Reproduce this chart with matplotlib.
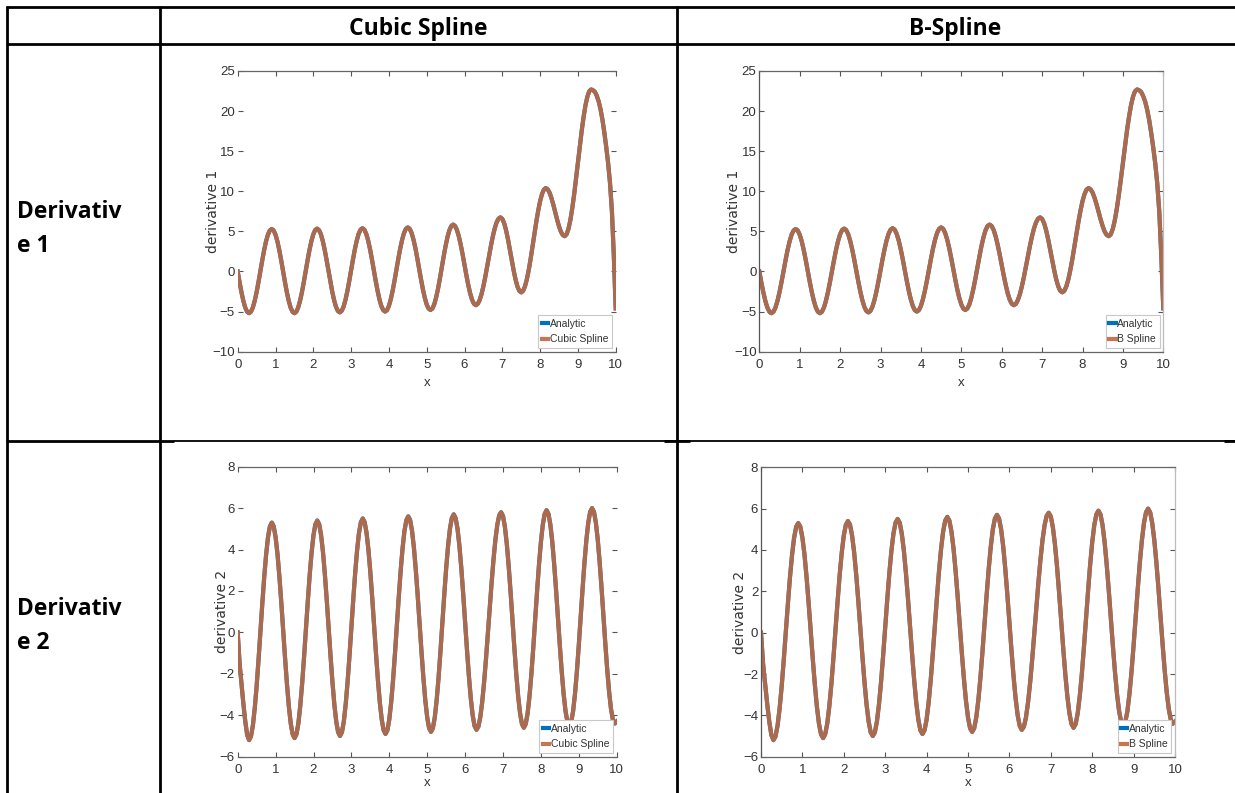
import numpy as np
import matplotlib
matplotlib.use("Agg")
import matplotlib.pyplot as plt

# ---------------------------------------------------------------------------
# Data: first and second derivative sampled on x = 0, 0.05, ..., 10
# ---------------------------------------------------------------------------
x_grid = np.linspace(0.0, 10.0, 201)

deriv1 = [
    0.0, -1.35, -2.6, -3.68, -4.5, -5.02, -5.2,
    -5.02, -4.5, -3.66, -2.58, -1.31, 0.05, 1.41, 2.68, 3.76, 4.6, 5.12, 5.3,
    5.12, 4.6, 3.76, 2.68, 1.41, 0.05, -1.31, -2.58, -3.66, -4.5, -5.02, -5.2,
    -5.02, -4.49, -3.65, -2.56, -1.29, 0.08, 1.44, 2.71, 3.8, 4.64, 5.17, 5.35,
    5.17, 4.65, 3.82, 2.74, 1.48, 0.13, -1.23, -2.49, -3.57, -4.4, -4.92, -5.1,
    -4.92, -4.4, -3.56, -2.48, -1.21, 0.15, 1.51, 2.78, 3.86, 4.7, 5.22, 5.4,
    5.22, 4.7, 3.88, 2.8, 1.55, 0.2, -1.15, -2.4, -3.48, -4.3, -4.82, -5.0,
    -4.82, -4.3, -3.46, -2.38, -1.11, 0.25, 1.61, 2.88, 3.96, 4.8, 5.32, 5.5,
    5.33, 4.81, 3.99, 2.93, 1.68, 0.35, -0.98, -2.23, -3.29, -4.11, -4.63, -4.8,
    -4.62, -4.09, -3.24, -2.14, -0.85, 0.53, 1.9, 3.19, 4.29, 5.14, 5.67, 5.85,
    5.68, 5.18, 4.38, 3.34, 2.13, 0.83, -0.48, -1.69, -2.73, -3.53, -4.03, -4.2,
    -4.04, -3.57, -2.83, -1.84, -0.67, 0.62, 1.93, 3.22, 4.39, 5.38, 6.12, 6.59, 6.75,
    6.56, 6.01, 5.14, 4.02, 2.74, 1.41, 0.14, -0.99, -1.86, -2.41, -2.6,
    -2.41, -1.85, -0.97, 0.21, 1.59, 3.12, 4.68, 6.21, 7.59, 8.77, 9.65, 10.21, 10.4,
    10.25, 9.83, 9.16, 8.33, 7.4, 6.47, 5.64, 4.97, 4.55, 4.4,
    4.63, 5.31, 6.39, 7.85, 9.58, 11.51, 13.55, 15.59, 17.52, 19.25, 20.71, 21.79, 22.47, 22.7,
    22.6, 22.4, 21.9, 21.2, 20.2, 18.9, 17.3, 15.5, 13.5, 11.0, 7.5, 2.0, -4.6,
]

deriv2 = [
    0.0, -1.5, -2.5, -3.45, -4.3, -4.95, -5.2,
    -5.02, -4.5, -3.66, -2.58, -1.31, 0.05, 1.41, 2.68, 3.76, 4.6, 5.12, 5.3,
    5.12, 4.6, 3.78, 2.7, 1.45, 0.1, -1.25, -2.5, -3.58, -4.4, -4.92, -5.1,
    -4.92, -4.4, -3.56, -2.48, -1.21, 0.15, 1.51, 2.78, 3.86, 4.7, 5.22, 5.4,
    5.22, 4.7, 3.88, 2.8, 1.55, 0.2, -1.15, -2.4, -3.48, -4.3, -4.82, -5.0,
    -4.82, -4.3, -3.46, -2.38, -1.11, 0.25, 1.61, 2.88, 3.96, 4.8, 5.32, 5.5,
    5.32, 4.8, 3.98, 2.9, 1.65, 0.3, -1.05, -2.3, -3.38, -4.2, -4.72, -4.9,
    -4.72, -4.2, -3.36, -2.28, -1.01, 0.35, 1.71, 2.98, 4.06, 4.9, 5.42, 5.6,
    5.42, 4.9, 4.08, 3.0, 1.75, 0.4, -0.95, -2.2, -3.28, -4.1, -4.62, -4.8,
    -4.62, -4.1, -3.26, -2.18, -0.91, 0.45, 1.81, 3.08, 4.16, 5.0, 5.52, 5.7,
    5.52, 5.0, 4.18, 3.1, 1.85, 0.5, -0.85, -2.1, -3.18, -4.0, -4.52, -4.7,
    -4.55, -4.1, -3.38, -2.43, -1.31, -0.08, 1.18, 2.41, 3.53, 4.48, 5.2, 5.65, 5.8,
    5.62, 5.1, 4.28, 3.2, 1.95, 0.6, -0.75, -2.0, -3.08, -3.9, -4.42, -4.6,
    -4.42, -3.9, -3.06, -1.98, -0.71, 0.65, 2.01, 3.28, 4.36, 5.2, 5.72, 5.9,
    5.72, 5.2, 4.38, 3.3, 2.05, 0.7, -0.65, -1.9, -2.98, -3.8, -4.32, -4.5,
    -4.32, -3.8, -2.96, -1.88, -0.61, 0.75, 2.11, 3.38, 4.46, 5.3, 5.82, 6.0,
    5.82, 5.3, 4.48, 3.4, 2.15, 0.8, -0.55, -1.8, -2.88, -3.7, -4.22, -4.4, -4.3,
]

column_titles = ["Cubic Spline", "B-Spline"]
row_titles = [("Derivativ", "e 1"), ("Derivativ", "e 2")]
spline_labels = ["Cubic Spline", "B Spline"]
y_labels = ["derivative 1", "derivative 2"]
y_limits = [(-10, 25), (-6, 8)]
y_ticks = [[-10, -5, 0, 5, 10, 15, 20, 25], [-6, -4, -2, 0, 2, 4, 6, 8]]
x_ticks = list(range(0, 11))
row_series = [deriv1, deriv2]

assert len(deriv1) == len(x_grid) and len(deriv2) == len(x_grid)

# ---------------------------------------------------------------------------
# Figure and table frame (pixel layout)
# ---------------------------------------------------------------------------
W, H = 1235, 793
fig = plt.figure(figsize=(W / 100, H / 100), dpi=100)
fig.patch.set_facecolor("white")

bg = fig.add_axes([0, 0, 1, 1], zorder=0)
bg.set_xlim(0, W)
bg.set_ylim(H, 0)
bg.axis("off")

thick = dict(color="black", lw=2.0, solid_capstyle="butt")
thin = dict(color="black", lw=1.3, solid_capstyle="butt")
bg.plot([6, W], [7, 7], **thick)
bg.plot([6, W], [44, 44], **thick)
bg.plot([7, 7], [6, H], **thick)
bg.plot([160, 160], [6, H], **thick)
bg.plot([677, 677], [6, H], **thick)
bg.plot([6, 174], [441, 441], **thick)
bg.plot([174, W], [441, 441], **thin)
bg.plot([664, 690], [441, 441], **thick)
bg.plot([1224, W], [441, 441], **thick)

head_font = dict(family=["Open Sans", "DejaVu Sans"], fontweight="bold",
                 fontsize=16.5)
bg.text(418.5, 35, column_titles[0], ha="center", va="baseline", **head_font)
bg.text(955, 35, column_titles[1], ha="center", va="baseline", **head_font)
for (first, second), base in zip(row_titles, [218, 615]):
    bg.text(17, base, first, ha="left", va="baseline", **head_font)
    bg.text(17, base + 34, second, ha="left", va="baseline", **head_font)

# ---------------------------------------------------------------------------
# Plot panels
# ---------------------------------------------------------------------------
panel_px = {
    (0, 0): (237.7, 71.0, 615.7, 351.7),
    (0, 1): (759.3, 71.0, 1163.3, 351.7),
    (1, 0): (237.7, 466.7, 616.7, 756.7),
    (1, 1): (761.0, 467.3, 1175.0, 756.7),
}
ylabel_px = {(0, 0): 213, (0, 1): 734, (1, 0): 222, (1, 1): 740}
xlabel_px = {0: 383, 1: 783}

narrow = ["Liberation Sans Narrow", "Liberation Sans", "DejaVu Sans"]

for (r, c), (l, t, rr, b) in panel_px.items():
    ax = fig.add_axes([l / W, 1 - b / H, (rr - l) / W, (b - t) / H], zorder=2)
    ax.patch.set_alpha(0)
    vals = row_series[r]
    ax.plot(x_grid, vals, color="#0072BD", lw=3.0, label="Analytic",
            solid_joinstyle="round")
    ax.plot(x_grid, vals, color="#C0683F", lw=3.0, alpha=0.9,
            label=spline_labels[c], solid_joinstyle="round")
    ax.set_xlim(0, 10)
    ax.set_ylim(*y_limits[r])
    ax.set_xticks(x_ticks)
    ax.set_yticks(y_ticks[r])

    ax.tick_params(direction="in", top=True, right=True, length=3.5,
                   width=0.8, color="#555555", labelcolor="#333333",
                   labelsize=9.5)
    ax.tick_params(axis="x", pad=5)
    ax.tick_params(axis="y", pad=2)
    for lab in ax.get_xticklabels() + ax.get_yticklabels():
        lab.set_family(narrow)

    for side in ("top", "bottom"):
        ax.spines[side].set_color("#666666")
        ax.spines[side].set_linewidth(0.9)
    if c == 0:
        ax.spines["left"].set_visible(False)
        ax.spines["right"].set_visible(False)
    else:
        ax.spines["left"].set_color("#555555")
        ax.spines["left"].set_linewidth(0.9)
        ax.spines["right"].set_color("#bbbbbb")
        ax.spines["right"].set_linewidth(0.9)

    ax.set_xlabel("x", fontsize=9.5, color="#333333", family=narrow,
                  va="center")
    ax.xaxis.set_label_coords(0.5, -(xlabel_px[r] - b) / (b - t))
    ax.set_ylabel(y_labels[r], fontsize=10, color="#333333", va="center")
    ax.yaxis.set_label_coords((ylabel_px[(r, c)] - l) / (rr - l), 0.5)

    leg = ax.legend(loc="lower right", handlelength=0.6,
                    handletextpad=0.15, borderpad=0.35, labelspacing=0.55,
                    borderaxespad=0.35, fancybox=False, framealpha=1,
                    edgecolor="#c8c8c8", prop={"family": narrow, "size": 7.5})
    leg.get_frame().set_linewidth(0.8)
    for txt in leg.get_texts():
        txt.set_color("#333333")

fig.savefig("out.png", dpi=100, facecolor="white")
